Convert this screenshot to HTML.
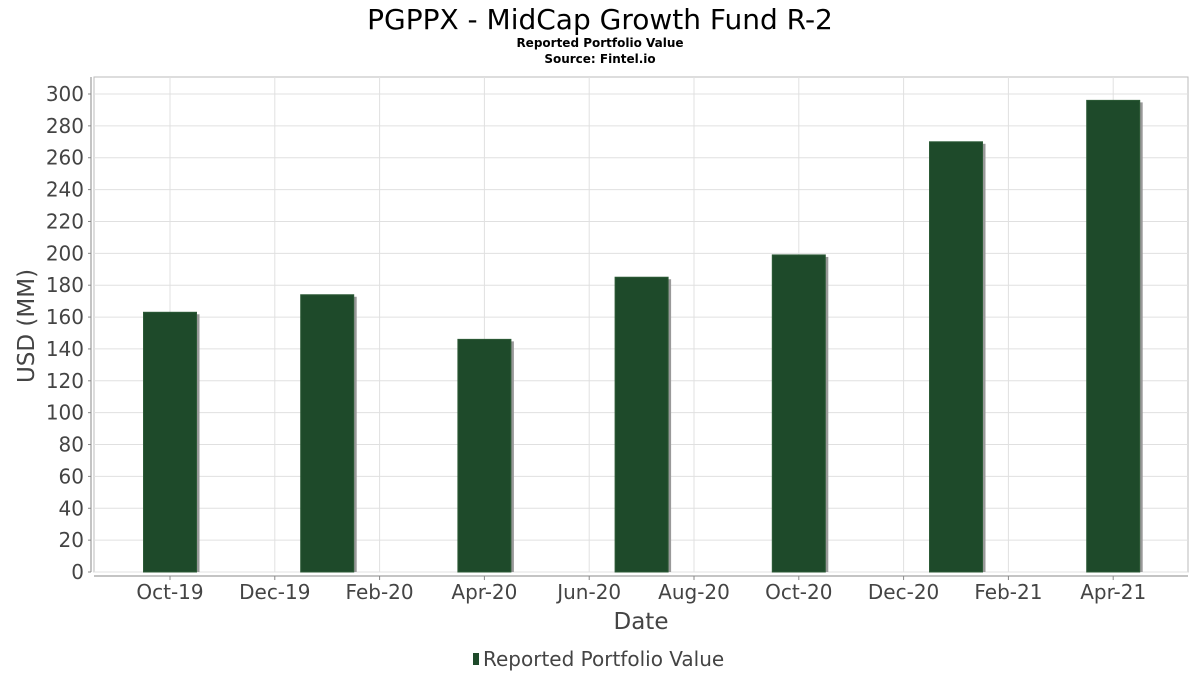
<!DOCTYPE html>
<html><head><meta charset="utf-8"><style>
body{margin:0;background:#fff;font-family:"DejaVu Sans","Liberation Sans",sans-serif}
</style></head><body>
<svg id="c" width="1200" height="675" xmlns="http://www.w3.org/2000/svg">
<text x="600" y="29" text-anchor="middle" font-size="28" fill="#000">PGPPX - MidCap Growth Fund R-2</text>
<text x="600" y="47" text-anchor="middle" font-size="12" font-weight="bold">Reported Portfolio Value</text>
<text x="600" y="63" text-anchor="middle" font-size="12" font-weight="bold">Source: Fintel.io</text>
<rect x="94" y="77" width="1094" height="495" fill="#fff" stroke="#bbb"/>
<g id="grid"></g><g id="bars"></g><g id="axes"></g>
<text transform="translate(34,326) rotate(-90)" text-anchor="middle" font-size="23" fill="#444">USD (MM)</text>
<text x="641" y="629" text-anchor="middle" font-size="23" fill="#444">Date</text>
<g>
<rect x="473" y="653" width="6" height="12" fill="#1e4a2a"/>
<text x="483" y="666" font-size="20" fill="#444">Reported Portfolio Value</text>
</g>
</svg>
<script>
const barMonths = [0, 3, 6, 9, 12, 15, 18];
const values = [163, 174, 146, 185, 199, 270, 296];
const xTickLabels = ["Oct-19","Dec-19","Feb-20","Apr-20","Jun-20","Aug-20","Oct-20","Dec-20","Feb-21","Apr-21"];
const xTickMonths = [0, 2, 4, 6, 8, 10, 12, 14, 16, 18];
const yTicks = [0,20,40,60,80,100,120,140,160,180,200,220,240,260,280,300];
const NS="http://www.w3.org/2000/svg";
const xs = m => 170 + m*52.4;
const ys = v => 572 - v*(478/300);
function mk(t,a,p){const e=document.createElementNS(NS,t);for(const k in a)e.setAttribute(k,a[k]);p.appendChild(e);return e;}
const grid=document.getElementById('grid'),bars=document.getElementById('bars'),axes=document.getElementById('axes');
yTicks.forEach(v=>{
  const l=mk('line',{x1:94,x2:1188,y1:ys(v),y2:ys(v),stroke:'#e0e0e0'},grid);
  
  
  const tk=mk('line',{x1:88,x2:91,y1:ys(v),y2:ys(v),stroke:'#888'},axes);
  
  
  const t=mk('text',{x:84,y:ys(v)+7,'text-anchor':'end','font-size':20,fill:'#444'},axes);
  t.textContent=v;
  
  
});
xTickMonths.forEach((m,i)=>{
  const l=mk('line',{x1:xs(m),x2:xs(m),y1:77,y2:572,stroke:'#e0e0e0'},grid);
  
  
  const tk=mk('line',{x1:xs(m),x2:xs(m),y1:576,y2:580,stroke:'#888'},axes);
  
  
  const t=mk('text',{x:xs(m),y:599,'text-anchor':'middle','font-size':20,fill:'#444'},axes);
  t.textContent=xTickLabels[i];
  
  
});
const ya=mk('line',{x1:91,x2:91,y1:77,y2:572,stroke:'#888'},axes);


const xa=mk('line',{x1:94,x2:1188,y1:576,y2:576,stroke:'#888'},axes);


barMonths.forEach((m,i)=>{
  const cx=xs(m),w=53,y=ys(values[i]);
  const s=mk('rect',{x:cx-w/2+3,y:y+2,width:w,height:572-y-2,fill:'#999'},bars);
  
  
  const b=mk('rect',{x:cx-w/2,y:y,width:w,height:572-y,fill:'#1e4a2a',stroke:'#2c5a36','stroke-width':1},bars);
  
  
});
</script>
</body></html>
